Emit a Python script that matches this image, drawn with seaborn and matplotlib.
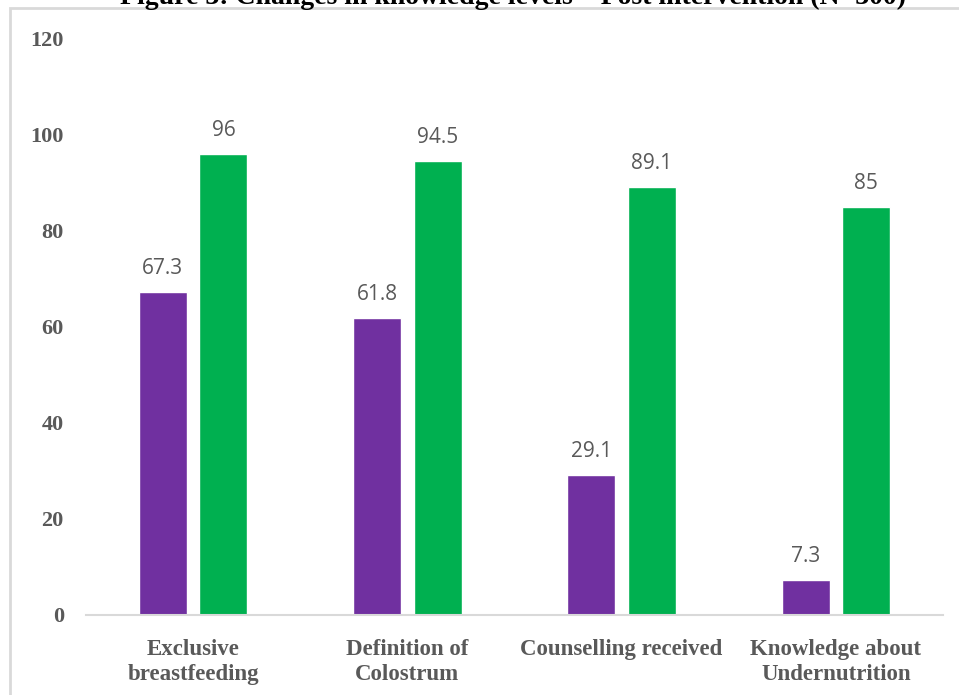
import matplotlib
matplotlib.use("Agg")
import matplotlib.pyplot as plt
from matplotlib.patches import Rectangle
import seaborn as sns
import pandas as pd

categories = ["Exclusive\nbreastfeeding", "Definition of\nColostrum",
              "Counselling received", "Knowledge about\nUndernutrition"]
pre_values = [67.3, 61.8, 29.1, 7.3]
post_values = [96, 94.5, 89.1, 85]
series_names = ["Pre intervention", "Post intervention"]
y_ticks = [0, 20, 40, 60, 80, 100, 120]
title = "Figure 3: Changes in knowledge levels \u2013 Post intervention (N=300)"

df = pd.DataFrame({
    "category": categories * 2,
    "value": pre_values + post_values,
    "series": [series_names[0]] * 4 + [series_names[1]] * 4,
})

sns.set_theme(style="white")
W, H = 959, 695
fig = plt.figure(figsize=(W / 100, H / 100), dpi=100)
ax = fig.add_axes([86 / W, 1 - 615 / H, (943 - 86) / W, (615 - 39) / H])

palette = {series_names[0]: "#7030A0", series_names[1]: "#00B050"}
sns.barplot(data=df, x="category", y="value", hue="series", palette=palette,
            width=0.565, gap=0.21, saturation=1, legend=False, ax=ax,
            errorbar=None)

ax.set_xlim(-0.5, 3.5)
ax.set_ylim(0, 120)
ax.set_yticks(y_ticks)
ax.set_xlabel("")
ax.set_ylabel("")

for s in ["top", "right", "left"]:
    ax.spines[s].set_visible(False)
ax.spines["bottom"].set_color("#D9D9D9")
ax.spines["bottom"].set_linewidth(1.5)

serif = ["Liberation Serif", "DejaVu Serif"]
ax.tick_params(axis="both", length=0)
ax.tick_params(axis="y", pad=16)
ax.tick_params(axis="x", pad=17)
for lab in ax.get_yticklabels():
    lab.set_fontfamily(serif)
    lab.set_fontweight("bold")
    lab.set_fontsize(16)
    lab.set_color("#595959")
for lab in ax.get_xticklabels():
    lab.set_fontfamily(serif)
    lab.set_fontweight("bold")
    lab.set_fontsize(16.5)
    lab.set_color("#595959")
    lab.set_linespacing(1.3)

for container in ax.containers:
    ax.bar_label(container, labels=[f"{v:g}" for v in container.datavalues],
                 padding=9.5, fontsize=15, color="#595959",
                 fontfamily=["Open Sans", "DejaVu Sans"])

# chart frame and partially visible caption above it
fig.patches.append(Rectangle((10, -20), W + 20, H - 8 + 20,
                             transform=None, fill=False,
                             edgecolor="#D9D9D9", linewidth=2))
fig.text(0.5 + 34 / W, 1 - 4 / H, title, ha="center", va="baseline",
         fontsize=20, fontweight="bold", fontfamily=serif, color="black")

fig.savefig("out.png", dpi=100)
